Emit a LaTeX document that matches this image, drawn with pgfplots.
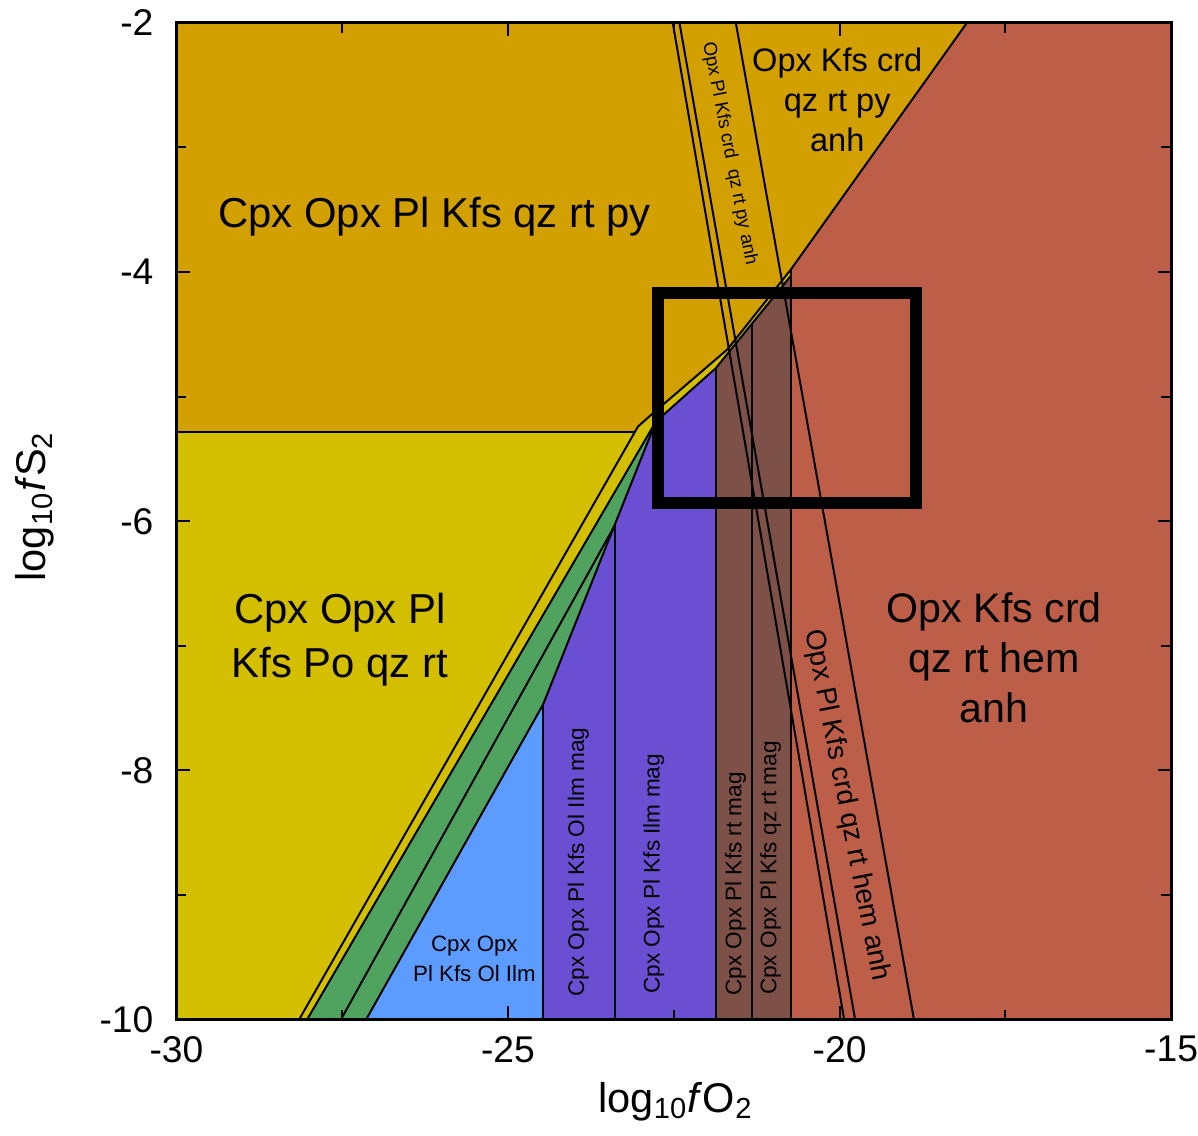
\documentclass[border=0pt]{standalone}
\usepackage{fontspec}
\setmainfont{Liberation Sans}
\usepackage{pgfplots}
\pgfplotsset{compat=1.18}

\definecolor{cgold}{RGB}{210,160,0}
\definecolor{cyel}{RGB}{212,190,0}
\definecolor{cgreen}{RGB}{80,163,95}
\definecolor{cblue}{RGB}{92,155,255}
\definecolor{cpurp}{RGB}{107,79,211}
\definecolor{cbrown}{RGB}{125,80,72}
\definecolor{cred}{RGB}{189,94,72}

\begin{document}
\begin{tikzpicture}
\begin{axis}[name=ax, width=299.4pt, height=300pt, scale only axis,
  xmin=-30, xmax=-15, ymin=-10, ymax=-2,
  xtick={-30,-25,-20,-15}, ytick={-10,-8,-6,-4,-2},
  minor xtick={-27.5,-22.5,-17.5}, minor ytick={-9,-7,-5,-3},
  tick align=inside, major tick length=4pt, minor tick length=3pt,
  every tick/.style={black, line width=0.6pt},
  axis line style={line width=0.9pt},
  axis on top,
  /pgf/number format/assume math mode=true,
  ticklabel style={font=\fontsize{11.2}{13}\selectfont},
  xticklabel style={inner xsep=0pt, yshift=-1.5pt},
  yticklabel style={inner ysep=0pt, xshift=-3.4pt},
  xlabel={log\textsubscript{10}\textit{f}O\textsubscript{2}},
  ylabel={log\textsubscript{10}\textit{f}S\textsubscript{2}},
  label style={font=\fontsize{12.5}{14}\selectfont},
  x label style={at={(axis description cs:0.502,-0.082)}, anchor=center},
  y label style={at={(axis description cs:-0.142,0.515)}, anchor=center, inner sep=0pt},
]
% background gold
\addplot[fill=cgold, draw=none] coordinates {(-30,-10) (-15,-10) (-15,-2) (-30,-2)} --cycle;
% lower-left yellow
\addplot[fill=cyel, draw=none] coordinates {(-30,-10) (-28.15,-10) (-23.083,-5.28) (-30,-5.28)} --cycle;
% red
\addplot[fill=cred, draw=none] coordinates {(-20.735,-10) (-15,-10) (-15,-2) (-18.08,-2) (-20.735,-3.98)} --cycle;
% thin yellow strip between U and V
\addplot[fill=cyel, draw=none] coordinates {(-28.15,-10) (-23.04,-5.24) (-22.85,-5.15) (-21.69,-4.62) (-20.735,-3.98) (-20.735,-4.03) (-21.864,-4.77) (-22.77,-5.20) (-28.03,-10)} --cycle;
% green
\addplot[fill=cgreen, draw=none] coordinates {(-28.03,-10) (-22.77,-5.20) (-24.47,-7.47) (-27.14,-10)} --cycle;
% blue
\addplot[fill=cblue, draw=none] coordinates {(-27.14,-10) (-24.47,-10) (-24.47,-7.47)} --cycle;
% purple
\addplot[fill=cpurp, draw=none] coordinates {(-24.47,-10) (-21.864,-10) (-21.864,-4.77) (-22.77,-5.20) (-24.47,-7.47)} --cycle;
% brown
\addplot[fill=cbrown, draw=none] coordinates {(-21.864,-10) (-20.735,-10) (-20.735,-4.03) (-21.864,-4.77)} --cycle;

% boundary lines
\pgfplotsset{bl/.style={black, line width=0.6pt, line join=round}}
\addplot[bl] coordinates {(-30,-5.28) (-23.083,-5.28)};
\addplot[bl] coordinates {(-28.15,-10) (-23.04,-5.24) (-22.85,-5.15) (-21.69,-4.62) (-20.735,-3.98) (-18.08,-2)};
\addplot[bl] coordinates {(-28.03,-10) (-22.77,-5.20) (-21.864,-4.77) (-20.735,-4.03)};
\addplot[bl] coordinates {(-27.14,-10) (-24.47,-7.47) (-22.77,-5.20)};
\addplot[bl] coordinates {(-27.52,-10) (-23.387,-6.03)};
\addplot[bl] coordinates {(-24.47,-10) (-24.47,-7.47)};
\addplot[bl] coordinates {(-23.387,-10) (-23.387,-6.03)};
\addplot[bl] coordinates {(-21.864,-10) (-21.864,-4.77)};
\addplot[bl] coordinates {(-21.313,-10) (-21.313,-4.41)};
\addplot[bl] coordinates {(-20.735,-10) (-20.735,-3.98)};
\addplot[bl] coordinates {(-22.515,-2) (-19.93,-10)};
\addplot[bl] coordinates {(-22.414,-2) (-19.765,-10)};
\addplot[bl] coordinates {(-21.564,-2) (-18.878,-10)};

% thick box
\addplot[black, line width=3.6pt, line join=miter] coordinates {(-22.74,-5.85) (-18.85,-5.85) (-18.85,-4.17) (-22.74,-4.17)} --cycle;

% labels
\node[font=\fontsize{12.6}{16}\selectfont, anchor=base] at (axis cs:-26.107,-3.64) {Cpx Opx Pl Kfs qz rt py};
\node[font=\fontsize{12.6}{16}\selectfont, align=center] at (axis cs:-27.535,-6.95) {Cpx Opx Pl\\Kfs Po qz rt};
\node[font=\fontsize{9.8}{12}\selectfont, align=center] at (axis cs:-20.035,-2.616) {Opx Kfs crd\\qz rt py\\anh};
\node[font=\fontsize{12.4}{15}\selectfont, align=center] at (axis cs:-17.667,-7.096) {Opx Kfs crd\\qz rt hem\\anh};
\node[font=\fontsize{6.7}{9}\selectfont, align=center] at (axis cs:-25.506,-9.512) {Cpx Opx\\Pl Kfs Ol Ilm};
\node[font=\fontsize{6.8}{8}\selectfont, rotate=90] at (axis cs:-23.94,-8.736) {Cpx Opx Pl Kfs Ol Ilm mag};
\node[font=\fontsize{6.8}{8}\selectfont, rotate=90] at (axis cs:-22.80,-8.83) {Cpx Opx Pl Kfs Ilm mag};
\node[font=\fontsize{6.8}{8}\selectfont, rotate=90] at (axis cs:-21.568,-8.91) {Cpx Opx Pl Kfs rt mag};
\node[font=\fontsize{6.8}{8}\selectfont, rotate=90] at (axis cs:-21.04,-8.784) {Cpx Opx Pl Kfs qz rt mag};
\node[font=\fontsize{5.6}{7}\selectfont, rotate=-79] at (axis cs:-21.66,-3.048) {Opx Pl Kfs crd\ \ qz rt py anh};
\node[font=\fontsize{8.4}{10}\selectfont, rotate=-79] at (axis cs:-19.90,-8.28) {Opx Pl Kfs crd qz rt hem anh};
\end{axis}
\path ([shift={(-53.1pt,-34.8pt)}]ax.south west) rectangle ([shift={(6.9pt,6.9pt)}]ax.north east);
\end{tikzpicture}
\end{document}
